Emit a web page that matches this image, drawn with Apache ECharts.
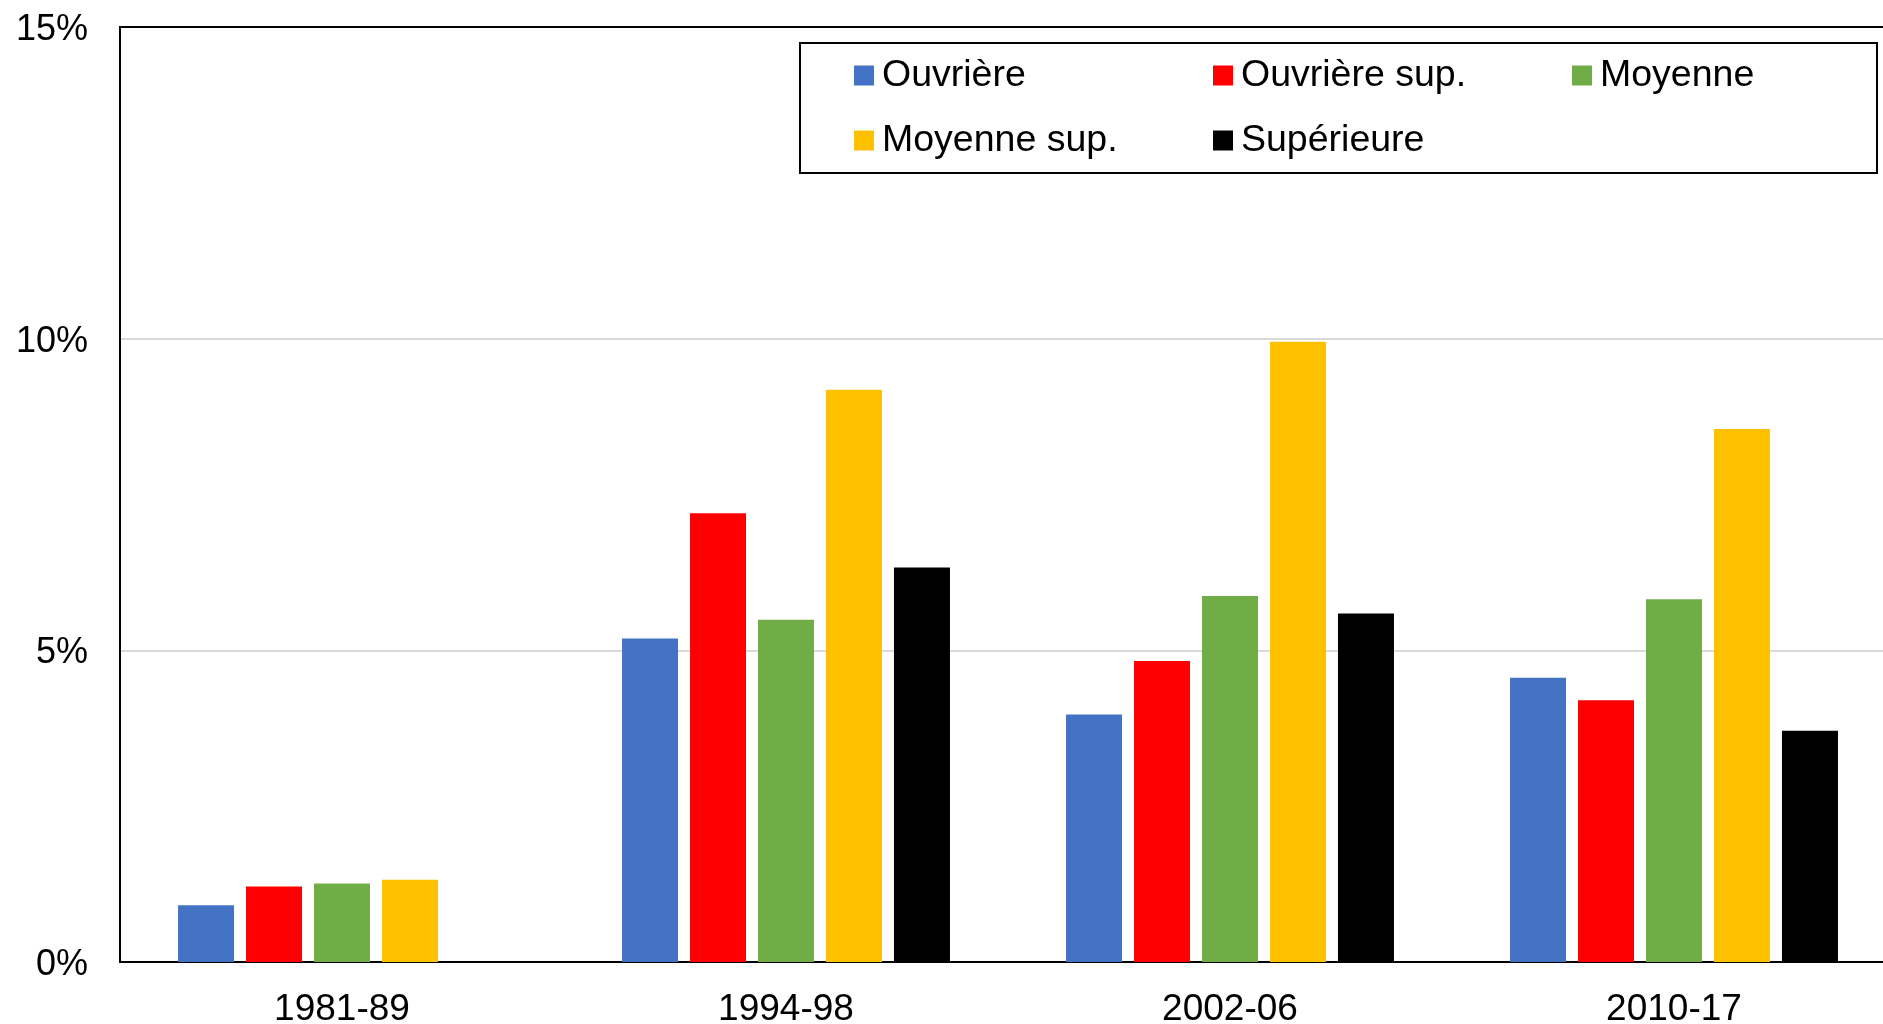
<!DOCTYPE html>
<html>
<head>
<meta charset="utf-8">
<title>Classes - bar chart</title>
<script src="https://cdn.jsdelivr.net/npm/echarts@6/dist/echarts.min.js"></script>
<style>
  html, body { margin: 0; padding: 0; background: #fff; }
  #chart { width: 1883px; height: 1024px; }
</style>
</head>
<body>
<div id="chart"></div>
<script>
const periods = ["1981-89", "1994-98", "2002-06", "2010-17"];
const yTicks = [0, 5, 10, 15];

// shares in %
const ouvriere = [0.91, 5.19, 3.97, 4.56];
const ouvriereSup = [1.21, 7.2, 4.83, 4.2];
const moyenne = [1.26, 5.49, 5.87, 5.82];
const moyenneSup = [1.32, 9.18, 9.95, 8.55];
const superieure = [null, 6.33, 5.59, 3.71]; // no value for 1981-89

const seriesNames = ["Ouvrière", "Ouvrière sup.", "Moyenne", "Moyenne sup.", "Supérieure"];
const seriesData = [ouvriere, ouvriereSup, moyenne, moyenneSup, superieure];
const colors = ["#4472C4", "#FF0000", "#70AD47", "#FFC000", "#000000"];

const font = '"Liberation Sans", Arial, sans-serif';

const chart = echarts.init(document.getElementById("chart"));

// legend columns line up: fixed text width, last column narrower so the box ends in time
const legendWidths = [331, 331, 197, 331, 331];

const option = {
  animation: false,
  backgroundColor: "#fff",
  textStyle: { fontFamily: font },
  grid: {
    left: 120,
    top: 27,
    width: 1776, // plot runs past the right edge of the picture
    bottom: 62,
    outerBoundsMode: "none",
    show: true,
    borderColor: "#000",
    borderWidth: 2,
  },
  legend: {
    left: 800,
    top: 43,
    width: 1000,
    padding: [0, 80, 0, 54],
    itemGap: 0,
    itemWidth: 20,
    itemHeight: 20,
    icon: "rect",
    borderColor: "#000",
    borderWidth: 2,
    backgroundColor: "#fff",
    selectedMode: false,
    textStyle: {
      fontFamily: font,
      fontSize: 37.5,
      color: "#000",
      lineHeight: 60,
      padding: [5, 0, 0, 3],
    },
    data: seriesNames.map((name, i) => ({
      name: name,
      textStyle: { width: legendWidths[i] },
    })),
  },
  xAxis: {
    type: "category",
    data: periods,
    axisLine: { lineStyle: { color: "#000", width: 2 } },
    axisTick: { show: false },
    axisLabel: {
      color: "#000",
      fontSize: 37,
      fontFamily: font,
      margin: 29,
    },
  },
  yAxis: {
    type: "value",
    min: yTicks[0],
    max: yTicks[yTicks.length - 1],
    interval: 5,
    axisLine: { show: true, lineStyle: { color: "#000", width: 2 } },
    axisTick: { show: false },
    axisLabel: {
      color: "#000",
      fontSize: 36,
      fontFamily: font,
      margin: 32,
      // nudge the labels a few px down so the digits sit centred on the gridline
      verticalAlign: "top",
      lineHeight: 6,
      formatter: "{value}%",
    },
    splitLine: {
      showMinLine: false,
      showMaxLine: false,
      lineStyle: { color: "#d9d9d9", width: 2 },
    },
  },
  series: seriesNames.map((name, i) => ({
    name: name,
    type: "bar",
    data: seriesData[i],
    barWidth: 56,
    barGap: "21.4%",
    itemStyle: { color: colors[i] },
  })),
};

chart.setOption(option);
</script>
</body>
</html>
